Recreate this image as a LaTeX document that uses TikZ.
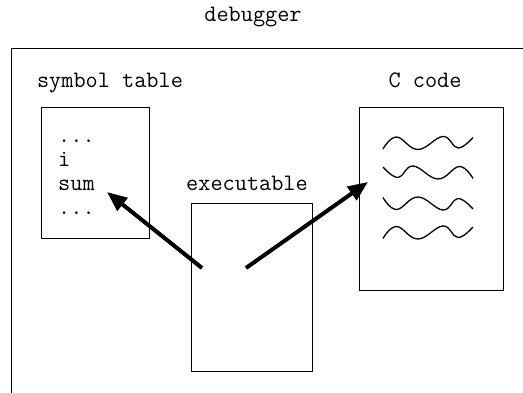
\documentclass[tikz,border=0pt]{standalone}
\usepackage{fontspec}
\usetikzlibrary{arrows.meta}

\begin{document}
\begin{tikzpicture}[x=1pt, y=-1pt,
	every node/.style={font=\ttfamily\fontsize{23.6}{24}\selectfont, inner sep=0pt},
	box/.style={draw, line width=1.3pt, anchor=north west},
	ptr/.style={line width=4pt, -{Triangle[length=20pt,width=16pt]}},
	wave/.style={line width=1.3pt, smooth, tension=0.7}]
	\useasboundingbox (0,0) rectangle (523,393);
	\clip (0,0) rectangle (523,393);
	\node[anchor=base] (dbglabel) at (253,22) {debugger};
	\node[box, minimum width=560pt, minimum height=400pt] (dbg) at (11,48) {};
	\node[anchor=base] (symlabel) at (110,88) {symbol table};
	\node[anchor=base] (codelabel) at (425,88) {C code};
	\node[anchor=base] (exelabel) at (247,191) {executable};
	\node[box, minimum width=108pt, minimum height=131pt] (symtab) at (41,107) {};
	\node[box, minimum width=121pt, minimum height=168pt] (exe) at (191,203) {};
	\node[box, minimum width=144pt, minimum height=183pt] (csrc) at (359,107) {};
	\node[anchor=base west] (dots1) at (58,143) {...};
	\node[anchor=base west] (var1) at (58,167) {i};
	\node[anchor=base west] (var2) at (58,191) {sum};
	\node[anchor=base west] (dots2) at (58,215) {...};
	\foreach \yc/\sx/\sy in {143/1/1, 172.5/-1/1, 203.5/1/-1, 232.5/1/1}
		\draw[wave, shift={(428,\yc)}, xscale=\sx, yscale=\sy]
			plot coordinates {(-45,6) (-31.5,-6) (-10,6.5) (15,-6.5) (30,5) (45,-5.5)};
	\coordinate (pc1) at (202,268);
	\coordinate (pc2) at (246,268);
	\coordinate (symhit) at (107,192);
	\coordinate (codehit) at (368,182);
	\draw[ptr] (pc1) -- (symhit);
	\draw[ptr] (pc2) -- (codehit);
\end{tikzpicture}
\end{document}
